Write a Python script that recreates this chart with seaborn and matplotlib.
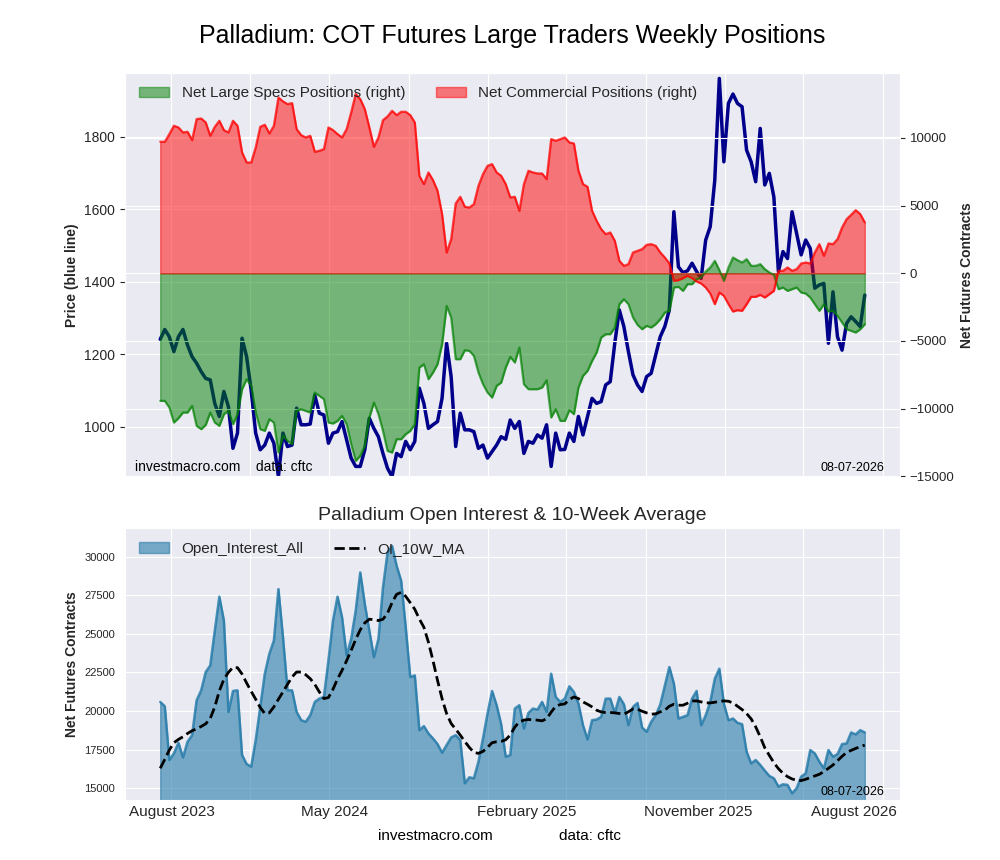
import pandas as pd
import matplotlib
matplotlib.use('Agg')
import matplotlib.pyplot as plt
import matplotlib.dates as mdates
from matplotlib.ticker import FixedLocator, FixedFormatter, NullFormatter, MultipleLocator
import seaborn as sns

sns.set_style('darkgrid')
plt.rcParams['font.family'] = ['Liberation Sans', 'DejaVu Sans']

# weekly report dates
weeks = pd.date_range('2023-08-15', periods=156, freq='7D')

price = [1241, 1268, 1248, 1207, 1248, 1268, 1225, 1193, 1175, 1152,
         1133, 1129, 1064, 1028, 1097, 1055, 940, 982, 1244, 1193,
         1101, 982, 936, 949, 982, 954, 862, 982, 945, 949,
         1051, 1005, 1005, 1007, 1087, 1037, 1032, 954, 982, 986,
         1014, 963, 913, 890, 890, 936, 1023, 995, 972, 926,
         885, 862, 926, 917, 959, 936, 959, 1106, 1064, 995,
         1005, 1014, 1078, 1230, 1138, 945, 1037, 991, 991, 986,
         940, 949, 913, 931, 949, 972, 965, 1018, 995, 1014,
         926, 959, 954, 977, 968, 1005, 890, 982, 936, 937,
         982, 959, 1028, 977, 1028, 1078, 1064, 1069, 1115, 1124,
         1230, 1322, 1276, 1207, 1143, 1115, 1097, 1138, 1147, 1198,
         1248, 1276, 1322, 1593, 1441, 1425, 1430, 1451, 1428, 1409,
         1515, 1552, 1680, 1961, 1731, 1892, 1918, 1892, 1883, 1763,
         1731, 1676, 1823, 1667, 1699, 1634, 1428, 1483, 1464, 1593,
         1533, 1474, 1515, 1492, 1382, 1391, 1395, 1230, 1372, 1248,
         1211, 1285, 1303, 1290, 1276, 1363]

spec_net = [-9417, -9417, -9910, -11017, -10697, -10279, -10279, -9787, -11264, -11510,
            -11190, -10279, -11017, -11264, -10402, -10156, -11141, -10402, -8555, -7817,
            -8309, -10279, -11510, -11633, -10771, -11017, -13233, -12002, -12372, -12618,
            -10156, -10033, -10156, -10279, -8802, -9048, -9294, -11017, -11091, -10894,
            -10525, -11141, -12618, -13849, -13479, -12741, -10648, -9540, -10402, -11633,
            -13110, -13233, -12249, -12249, -11879, -11633, -11141, -6955, -6709, -7817,
            -7324, -6709, -5232, -2400, -3262, -6340, -6340, -5675, -5724, -6093,
            -7324, -8186, -8802, -9171, -8309, -8063, -6955, -6167, -6586, -5478,
            -8186, -8555, -8555, -8555, -8432, -7891, -10648, -10033, -10894, -10894,
            -10106, -10402, -8432, -7571, -7201, -6463, -5847, -4739, -4493, -4493,
            -4001, -2277, -1908, -2277, -3262, -3804, -4124, -3878, -4001, -3755,
            -3385, -2893, -2770, -1046, -997, -1293, -800, -800, -431, -308,
            135, 431, 923, 234, -554, 431, 1169, 972, 800, 1046,
            554, 554, 677, 308, 62, -111, -1169, -1046, -1293, -1169,
            -1046, -1416, -1490, -1785, -2277, -2770, -2277, -2819, -2770, -3139,
            -3631, -4124, -4247, -4370, -4124, -3755]

comm_net = [9713, 9713, 10279, 10894, 10771, 10402, 10451, 9836, 11387, 11436,
            11141, 10156, 10820, 11264, 10574, 10402, 11264, 10894, 8925, 8186,
            8186, 9294, 10820, 10968, 10328, 10894, 12987, 12692, 12495, 12569,
            10648, 10205, 10033, 10156, 8974, 9048, 9171, 10771, 10574, 10279,
            10033, 10648, 11879, 13233, 12864, 12125, 10771, 9343, 10033, 11313,
            11584, 12002, 11682, 11928, 11928, 11682, 11141, 7201, 6586, 7448,
            6881, 6093, 4370, 1539, 2524, 5158, 5650, 4912, 4862, 5109,
            6463, 7324, 7940, 8063, 7448, 7201, 6586, 5601, 5650, 4616,
            6586, 7571, 7448, 7374, 7374, 6955, 9910, 9787, 9910, 10033,
            9663, 9589, 7571, 6586, 6389, 4616, 3878, 3262, 2893, 3016,
            2400, 923, 554, 677, 1539, 1662, 1785, 2105, 2154, 2031,
            1539, 1169, 726, -554, -505, -357, -185, -357, -603, -751,
            -1046, -1490, -2277, -1416, -1662, -2277, -2819, -2721, -2770, -2277,
            -1736, -1736, -1588, -1785, -1539, -1293, 185, 185, 431, 185,
            308, 726, 800, 726, 1539, 2154, 1293, 2203, 2154, 2524,
            3385, 4001, 4321, 4665, 4370, 3755]

open_interest = [20593, 20313, 16828, 17259, 17947, 17000, 18011, 18442, 20700, 21345,
                 22529, 22959, 25217, 27411, 25863, 19947, 21302, 21345, 17151, 16570,
                 16398, 18119, 20270, 22421, 23712, 24572, 27906, 24787, 21345, 21345,
                 19947, 19410, 19302, 19732, 20593, 20808, 20915, 23281, 25863, 27411,
                 26078, 23604, 24680, 26508, 28982, 26938, 25217, 23496, 24680, 28014,
                 30272, 30702, 29412, 28444, 25432, 22206, 22313, 18764, 19022, 18549,
                 18227, 17861, 17302, 17796, 18291, 18442, 18119, 15323, 15710, 15645,
                 16721, 18227, 19840, 21302, 20378, 19151, 17043, 17151, 20162, 20378,
                 18872, 19883, 20162, 20098, 20593, 19947, 22421, 20915, 20593, 20808,
                 21604, 21238, 20485, 19087, 18162, 19410, 19453, 19625, 20808, 20808,
                 19883, 20915, 20442, 19087, 20270, 20528, 18936, 18657, 19302, 19732,
                 20421, 21647, 22851, 21776, 19517, 19625, 19732, 20808, 21302, 19087,
                 19732, 20593, 22098, 22744, 20485, 19410, 19517, 19237, 19151, 17366,
                 16613, 16828, 16506, 16140, 15796, 15645, 15108, 15258, 15215, 14677,
                 15000, 15753, 15968, 17474, 17259, 16721, 16291, 17474, 17043, 17216,
                 17861, 17904, 18614, 18485, 18764, 18614]

oi_ma = [16291, 16871, 17474, 17947, 18162, 18334, 18549, 18721, 18850, 19001,
         19173, 19517, 20270, 21302, 22055, 22507, 22830, 22808, 22399, 21819,
         21281, 20765, 20227, 19840, 19883, 20270, 20765, 21238, 21733, 22206,
         22529, 22529, 22356, 22098, 21733, 21238, 20808, 20872, 21410, 22077,
         22636, 23260, 23927, 24636, 25260, 25712, 25949, 25927, 25863, 25949,
         26336, 27024, 27562, 27691, 27433, 27024, 26594, 25970, 25432, 24464,
         23281, 21991, 20808, 19840, 19194, 18829, 18442, 18033, 17646, 17323,
         17259, 17388, 17646, 17947, 18011, 18033, 18140, 18442, 18958, 19302,
         19410, 19453, 19431, 19410, 19367, 19496, 19926, 20313, 20421, 20464,
         20743, 20915, 20808, 20593, 20442, 20270, 20055, 19947, 19904, 19904,
         19883, 19840, 19797, 19947, 20141, 20119, 19990, 19883, 19797, 19818,
         19947, 20055, 20313, 20442, 20378, 20378, 20507, 20657, 20657, 20593,
         20528, 20528, 20571, 20636, 20657, 20636, 20528, 20313, 20098, 19840,
         19496, 18979, 18334, 17624, 17129, 16656, 16269, 15968, 15753, 15602,
         15516, 15495, 15581, 15688, 15796, 15903, 16076, 16291, 16506, 16785,
         17065, 17323, 17452, 17581, 17689, 17796]

tick_dates = pd.to_datetime(['2023-09-02', '2024-05-09', '2025-03-02', '2025-11-20', '2026-07-18'])
tick_labels = ['August 2023', 'May 2024', 'February 2025', 'November 2025', 'August 2026']

df = pd.DataFrame({'Date': weeks, 'Price': price, 'Spec': spec_net, 'Comm': comm_net,
                   'OI': open_interest, 'OI_MA': oi_ma})

fig = plt.figure(figsize=(10, 8.6), dpi=100)
ax1 = fig.add_axes([0.125, 0.445, 0.775, 0.4705])
ax3 = fig.add_axes([0.125, 0.0698, 0.775, 0.3159], sharex=ax1)
ax2 = ax1.twinx()

# top panel: price (left) and net positions (right)
sns.lineplot(data=df, x='Date', y='Price', ax=ax1, color='darkblue', lw=2.5)
spec_fill = ax2.fill_between(df['Date'], df['Spec'], 0, color='green', alpha=0.5, lw=1,
                             label='Net Large Specs Positions (right)')
comm_fill = ax2.fill_between(df['Date'], df['Comm'], 0, color='red', alpha=0.5, lw=1,
                             label='Net Commercial Positions (right)')
sns.lineplot(data=df, x='Date', y='Spec', ax=ax2, color='green', alpha=0.6, lw=1.6)
sns.lineplot(data=df, x='Date', y='Comm', ax=ax2, color='red', alpha=0.7, lw=1.6)
ax1.set_ylim(860, 1977)
ax2.set_ylim(-15066, 14815)
ax1.set_xlabel('')
ax2.set_xlabel('')
ax1.set_ylabel('Price (blue line)', fontsize=10, fontweight='bold')
ax2.set_ylabel('Net Futures Contracts', fontsize=10, fontweight='bold')
ax1.tick_params(axis='y', labelsize=10)
ax2.tick_params(axis='y', labelsize=9.5)
ax2.legend(handles=[spec_fill, comm_fill], loc='upper left', ncol=2, fontsize=11,
           frameon=False)
ax2.text(0.013, 0.008, 'investmacro.com    data: cftc', transform=ax2.transAxes,
         fontsize=10, va='bottom', color='black')
ax2.text(0.98, 0.008, '08-07-2026', transform=ax2.transAxes, fontsize=9,
         ha='right', va='bottom', color='black')

# bottom panel: open interest
oi_color = '#277caa'
oi_fill = ax3.fill_between(df['Date'], df['OI'], color=oi_color, alpha=0.6, lw=1,
                           label='Open_Interest_All')
sns.lineplot(data=df, x='Date', y='OI', ax=ax3, color=oi_color, alpha=0.8, lw=1.8)
sns.lineplot(data=df, x='Date', y='OI_MA', ax=ax3, color='black', linestyle='--',
             lw=2, label='OI_10W_MA')
ma_line = ax3.get_lines()[-1]
ax3.set_ylim(14240, 31840)
ax3.yaxis.set_major_locator(MultipleLocator(2500))
ax3.tick_params(axis='y', labelsize=8)
ax3.set_xlabel('')
ax3.set_ylabel('Net Futures Contracts', fontsize=10, fontweight='bold')
ax3.set_title('Palladium Open Interest & 10-Week Average', fontsize=14)
ax3.legend(handles=[oi_fill, ma_line], loc='upper left', ncol=2, fontsize=11,
           frameon=False)
ax3.text(0.98, 0.008, '08-07-2026', transform=ax3.transAxes, fontsize=9,
         ha='right', va='bottom', color='black')

# grid on 4-month marks, labels placed separately
ax3.xaxis.set_major_locator(mdates.MonthLocator(bymonth=[1, 5, 9]))
ax3.xaxis.set_major_formatter(NullFormatter())
ax3.xaxis.set_minor_locator(FixedLocator(mdates.date2num(tick_dates)))
ax3.xaxis.set_minor_formatter(FixedFormatter(tick_labels))
ax3.tick_params(axis='x', which='both', length=0, labelsize=11)
ax1.tick_params(axis='x', which='both', length=0, labelbottom=False)

fig.suptitle('Palladium: COT Futures Large Traders Weekly Positions', fontsize=18,
             x=0.512, y=0.972, color='black')
fig.text(0.435, 0.028, 'investmacro.com', ha='center', va='center', fontsize=11, color='black')
fig.text(0.59, 0.028, 'data: cftc', ha='center', va='center', fontsize=11, color='black')

fig.savefig('out.png', dpi=100)
